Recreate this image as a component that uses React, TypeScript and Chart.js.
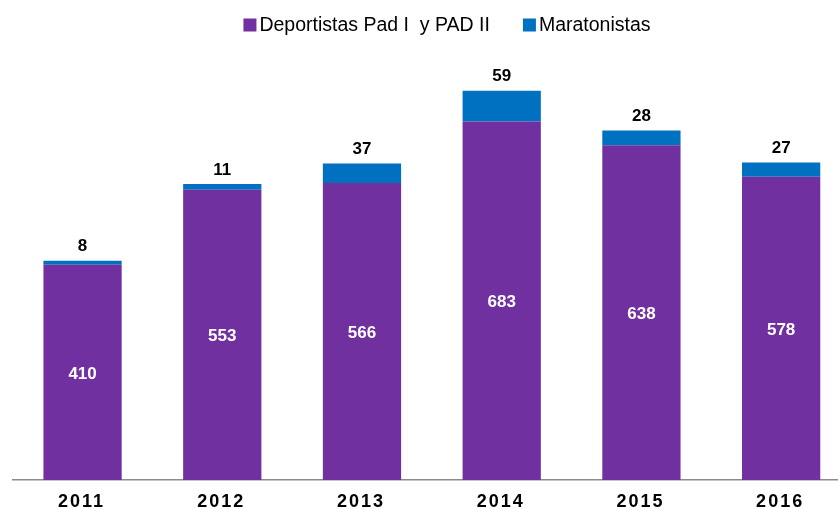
import React, { useEffect, useRef } from "react";
import { Chart, registerables } from "chart.js";

Chart.register(...registerables);

const years = ["2011", "2012", "2013", "2014", "2015", "2016"];
const deportistas = [410, 553, 566, 683, 638, 578];
const maratonistas = [8, 11, 37, 59, 28, 27];
const seriesNames = ["Deportistas Pad I  y PAD II", "Maratonistas"];
const colors = ["#7030A0", "#0070C0"];

const FONT = "'Liberation Sans', Arial, sans-serif";

const labelPlugin = {
  id: "customLabels",
  afterDraw(chart: any) {
    const ctx = chart.ctx;
    const m0 = chart.getDatasetMeta(0);
    const m1 = chart.getDatasetMeta(1);
    ctx.save();
    ctx.textAlign = "center";
    ctx.textBaseline = "middle";
    ctx.font = `bold 17px ${FONT}`;
    m0.data.forEach((bar: any, i: number) => {
      ctx.fillStyle = "#ffffff";
      ctx.fillText(String(deportistas[i]), bar.x, (bar.y + bar.base) / 2 + 1.5);
    });
    m1.data.forEach((bar: any, i: number) => {
      ctx.fillStyle = "#000000";
      ctx.fillText(String(maratonistas[i]), bar.x, bar.y - 14);
    });
    // x tick labels
    const xs = chart.scales.x;
    ctx.font = `bold 18px ${FONT}`;
    (ctx as any).letterSpacing = "2px";
    ctx.fillStyle = "#000000";
    years.forEach((y, i) => {
      ctx.fillText(y, xs.getPixelForValue(i) - 1, chart.chartArea.bottom + 22);
    });
    (ctx as any).letterSpacing = "0px";
    // legend
    ctx.font = `19.5px ${FONT}`;
    ctx.textAlign = "left";
    const box = 13;
    const gapBox = 3;
    const gapItem = 33;
    const widths = seriesNames.map((n) => box + gapBox + ctx.measureText(n).width);
    const total = widths.reduce((a, b) => a + b, 0) + gapItem * (widths.length - 1);
    let x = 447 - total / 2;
    const cy = 25;
    seriesNames.forEach((n, i) => {
      ctx.fillStyle = colors[i];
      ctx.fillRect(x, cy - box / 2, box, box);
      ctx.fillStyle = "#000000";
      ctx.fillText(n, x + box + gapBox, cy + 1);
      x += widths[i] + gapItem;
    });
    ctx.restore();
  },
};

export default function App() {
  const ref = useRef<HTMLCanvasElement>(null);
  useEffect(() => {
    if (!ref.current) return;
    const chart = new Chart(ref.current, {
      type: "bar",
      data: {
        labels: years,
        datasets: [
          {
            label: seriesNames[0],
            data: deportistas,
            backgroundColor: colors[0],
            barPercentage: 0.56,
            categoryPercentage: 1,
          },
          {
            label: seriesNames[1],
            data: maratonistas,
            backgroundColor: colors[1],
            barPercentage: 0.56,
            categoryPercentage: 1,
          },
        ],
      },
      options: {
        animation: false,
        responsive: false,
        layout: { padding: { left: 12.7, right: 0, top: 60.2, bottom: 21 } },
        plugins: { legend: { display: false }, tooltip: { enabled: false } },
        scales: {
          x: {
            stacked: true,
            grid: { display: false },
            border: { display: true, color: "#8c8c8c", width: 1.5 },
            ticks: { display: false },
          },
          y: {
            stacked: true,
            display: false,
            min: 0,
            max: 800,
          },
        },
      },
      plugins: [labelPlugin],
    });
    return () => chart.destroy();
  }, []);
  return (
    <div style={{ position: "absolute", left: 0, top: 0, width: 838, height: 509, overflow: "hidden", background: "#fff" }}>
      <canvas ref={ref} width={851} height={509} style={{ width: 851, height: 509, display: "block" }} />
    </div>
  );
}
